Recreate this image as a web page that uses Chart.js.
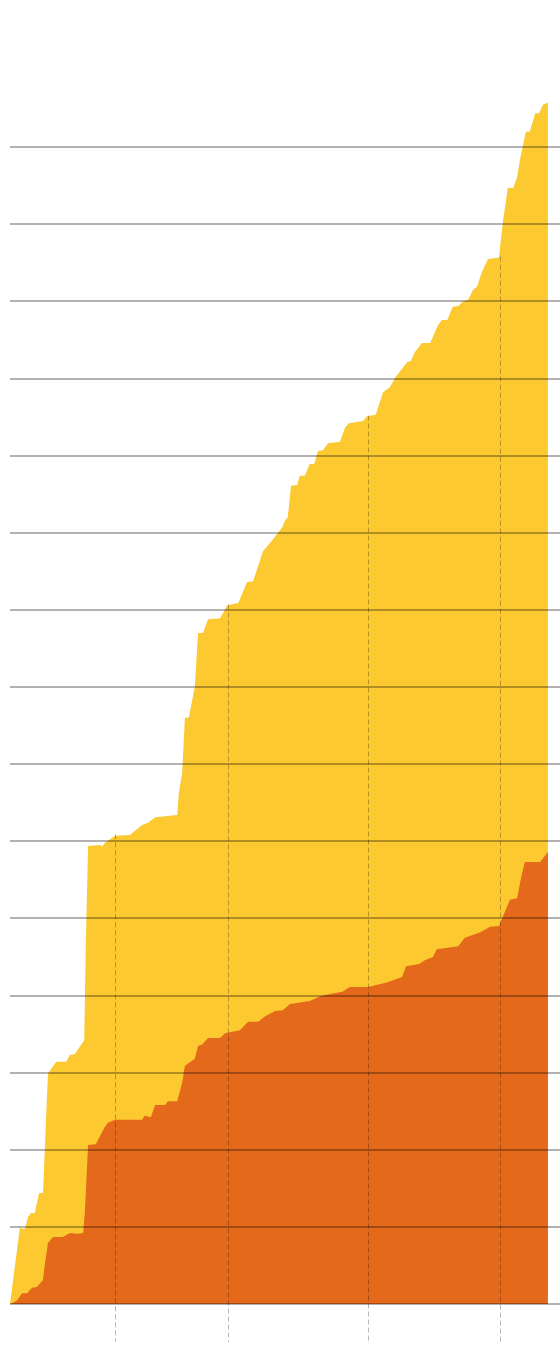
<!DOCTYPE html>
<html>
<head>
<meta charset="utf-8">
<script src="https://cdn.jsdelivr.net/npm/chart.js@4/dist/chart.umd.min.js"></script>
<style>
  html, body { margin: 0; padding: 0; background: #fff; }
  #wrap { width: 560px; height: 1358px; position: relative; }
</style>
</head>
<body>
<div id="wrap"><canvas id="chart"></canvas></div>
<script>
// upper (yellow) series
const yellowX = [0, 1.8, 2.7, 3.3, 3.8, 4.5, 5.3, 6.0, 6.4, 6.9, 8.4, 10.2, 10.9, 11.8, 13.5, 13.8, 14.2,
  16.5, 16.7, 17.3, 19.1, 21.8, 24.0, 25.1, 26.4, 30.4, 30.7, 31.3, 31.8, 32.5, 33.6, 34.2, 35.1, 36.0,
  38.2, 39.5, 41.5, 43.1, 44.2, 46.0, 47.3, 48.5, 49.5, 50.0, 50.5, 51.1, 52.2, 52.7, 53.6, 54.5, 55.3,
  56.0, 56.9, 57.8, 60.0, 60.9, 61.6, 64.2, 64.9, 66.5, 67.8, 69.1, 70.0, 72.2, 72.9, 73.6, 74.9, 76.4,
  77.8, 78.5, 79.5, 80.5, 81.5, 82.4, 83.3, 84.2, 84.9, 85.8, 86.9, 88.9, 89.6, 90.5, 91.5, 92.2, 92.7,
  93.8, 94.5, 95.5, 96.2, 96.9, 97.8];
const yellowY = [0, 9.9, 9.7, 11.3, 11.8, 11.8, 14.4, 14.4, 21.3, 29.9, 31.4, 31.4, 32.3, 32.4, 34.2, 47.2, 59.4,
  59.5, 59.3, 59.8, 60.7, 60.8, 62.1, 62.4, 63.1, 63.4, 66.3, 68.8, 76.0, 76.0, 80.0, 87.0, 87.0, 88.8,
  88.9, 90.6, 90.9, 93.6, 93.7, 97.6, 98.7, 99.8, 100.7, 101.6, 102.0, 106.1, 106.2, 107.4, 107.4, 108.9, 108.9,
  110.6, 110.7, 111.6, 111.8, 113.6, 114.2, 114.5, 115.1, 115.3, 118.2, 118.9, 120.1, 122.1, 122.3, 123.4, 124.6, 124.6,
  126.9, 127.6, 127.6, 129.3, 129.4, 130.0, 130.2, 131.5, 131.9, 133.8, 135.5, 135.7, 140.2, 144.7, 144.7, 146.1, 148.3,
  152.0, 152.0, 154.4, 154.4, 155.5, 155.8];

// lower (orange) series
const orangeX = [0, 0.4, 1.3, 2.2, 3.1, 4.0, 4.9, 6.0, 6.2, 6.9, 7.8, 9.6, 10.9, 12.2, 13.3, 13.6, 14.2,
  15.6, 16.4, 17.1, 17.8, 19.1, 24.0, 24.5, 25.6, 26.4, 28.2, 28.7, 30.4, 31.3, 31.8, 33.6, 34.2, 34.9,
  36.0, 38.2, 39.1, 40.4, 41.8, 43.3, 45.1, 46.4, 48.2, 49.6, 50.9, 54.5, 56.4, 58.2, 60.4, 61.8, 65.1,
  68.5, 71.3, 72.0, 74.4, 75.5, 76.9, 77.6, 81.5, 82.7, 85.5, 87.3, 88.9, 90.9, 92.2, 92.9, 93.6, 96.4, 97.8];
const orangeY = [0, 0.1, 0.5, 1.4, 1.4, 2.1, 2.2, 3.1, 4.4, 7.9, 8.7, 8.7, 9.2, 9.1, 9.2, 11.8, 20.6,
  20.7, 21.8, 22.8, 23.5, 23.9, 23.9, 24.4, 24.2, 25.8, 25.8, 26.3, 26.3, 28.7, 30.9, 31.8, 33.5, 33.6,
  34.5, 34.5, 35.1, 35.3, 35.5, 36.6, 36.6, 37.3, 38.0, 38.1, 38.9, 39.3, 39.9, 40.2, 40.5, 41.1, 41.1,
  41.7, 42.4, 43.8, 44.1, 44.6, 45.0, 46.0, 46.4, 47.5, 48.2, 48.9, 49.0, 52.4, 52.6, 55.2, 57.3, 57.3, 58.6];

// dashed markers
const markerX = [19.1, 39.6, 65.1, 89.1];
const markerY = [60.9, 90.7, 115.2, 135.8];

const toPoints = (xs, ys) => xs.map((x, i) => ({ x: x, y: ys[i] }));

const markerLines = {
  id: 'markerLines',
  afterDraw(chart) {
    const { ctx, chartArea, scales } = chart;
    ctx.save();
    ctx.strokeStyle = 'rgba(0,0,0,0.28)';
    ctx.lineWidth = 1;
    ctx.setLineDash([5, 3]);
    markerX.forEach((mx, i) => {
      const px = Math.round(scales.x.getPixelForValue(mx)) + 0.5;
      ctx.beginPath();
      ctx.moveTo(px, scales.y.getPixelForValue(markerY[i]));
      ctx.lineTo(px, chartArea.bottom + 38);
      ctx.stroke();
    });
    ctx.restore();
  }
};

new Chart(document.getElementById('chart'), {
  type: 'line',
  data: {
    datasets: [{
      data: toPoints(orangeX, orangeY),
      backgroundColor: '#e5691a',
      borderWidth: 0,
      pointRadius: 0,
      fill: 'origin',
      order: 0
    }, {
      data: toPoints(yellowX, yellowY),
      backgroundColor: '#fcc931',
      borderWidth: 0,
      pointRadius: 0,
      fill: 'origin',
      order: 1
    }]
  },
  options: {
    responsive: true,
    maintainAspectRatio: false,
    animation: false,
    layout: { padding: { left: 10, right: 0, top: 70, bottom: 54 } },
    plugins: { legend: { display: false }, tooltip: { enabled: false } },
    elements: { line: { tension: 0 } },
    scales: {
      x: {
        type: 'linear',
        min: 0,
        max: 100,
        display: false
      },
      y: {
        min: 0,
        max: 160,
        z: 1,
        ticks: { display: false, stepSize: 10 },
        border: { display: false },
        grid: {
          z: 1,
          drawTicks: false,
          lineWidth: 2,
          color: ctx => ctx.tick && ctx.tick.value > 150 ? 'rgba(0,0,0,0)' : 'rgba(0,0,0,0.3)'
        }
      }
    }
  },
  plugins: [markerLines]
});
</script>
</body>
</html>
